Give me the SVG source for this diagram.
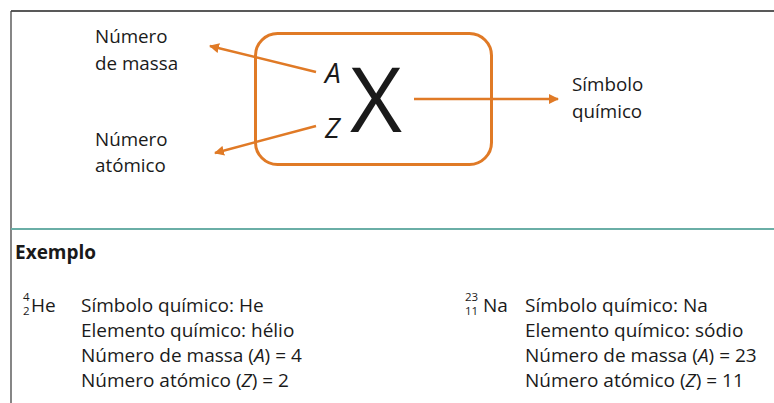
<svg xmlns="http://www.w3.org/2000/svg" width="774" height="403" viewBox="0 0 774 403">
<defs>
<style>
text{font-family:"Open Sans","Liberation Sans",sans-serif;fill:#1a1a1a}
.lbl{font-size:18.8px}
.body{font-size:19px}
.small{font-size:11.5px}
.it{font-style:italic}
.con{stroke:#e07a26;stroke-width:2.5;fill:none}
</style>
<marker id="ah" viewBox="0 0 10 10" refX="9" refY="5" markerWidth="4" markerHeight="4" orient="auto" markerUnits="strokeWidth">
<path d="M0,0 L10,5 L0,10 z" fill="#e07a26"/>
</marker>
</defs>
<rect width="774" height="403" fill="#ffffff"/>
<g id="frame">
<line x1="11" y1="11" x2="774" y2="11" stroke="#222" stroke-width="1.3"/>
<line x1="11" y1="11" x2="11" y2="403" stroke="#444" stroke-width="1.3"/>
<line x1="11" y1="229" x2="774" y2="229" stroke="#6aaea6" stroke-width="2"/>
</g>
<g id="box">
<rect x="255.5" y="33.5" width="236" height="131" rx="22" ry="22" fill="none" stroke="#e07a26" stroke-width="3"/>
<text x="325" y="83" font-size="28" class="it">A</text>
<text x="325" y="138" font-size="28" class="it">Z</text>
<text x="350" y="132" font-size="90" font-weight="500">X</text>
</g>
<g id="connectors">
<line class="con" x1="316" y1="72" x2="210" y2="46" marker-end="url(#ah)"/>
<line class="con" x1="316" y1="126" x2="215" y2="153" marker-end="url(#ah)"/>
<line class="con" x1="414" y1="99" x2="558" y2="99" marker-end="url(#ah)"/>
</g>
<g id="label-massa">
<text class="lbl" x="95" y="43">Número</text>
<text class="lbl" x="95" y="70">de massa</text>
</g>
<g id="label-atomico">
<text class="lbl" x="95" y="146">Número</text>
<text class="lbl" x="95" y="172">atómico</text>
</g>
<g id="label-simbolo">
<text class="lbl" x="572" y="91">Símbolo</text>
<text class="lbl" x="572" y="118">químico</text>
</g>
<g id="exemplo">
<text x="15" y="259" font-size="19" font-weight="bold">Exemplo</text>
</g>
<g id="he">
<text class="small" x="23" y="301">4</text>
<text class="small" x="23" y="315">2</text>
<text class="body" x="31" y="312">He</text>
<text class="body" x="81" y="312">Símbolo químico: He</text>
<text class="body" x="81" y="337">Elemento químico: hélio</text>
<text class="body" x="81" y="362">Número de massa (<tspan class="it">A</tspan>) = 4</text>
<text class="body" x="81" y="387">Número atómico (<tspan class="it">Z</tspan>) = 2</text>
</g>
<g id="na">
<text class="small" x="465" y="301">23</text>
<text class="small" x="465" y="315">11</text>
<text class="body" x="483" y="312">Na</text>
<text class="body" x="525" y="312">Símbolo químico: Na</text>
<text class="body" x="525" y="337">Elemento químico: sódio</text>
<text class="body" x="525" y="362">Número de massa (<tspan class="it">A</tspan>) = 23</text>
<text class="body" x="525" y="387">Número atómico (<tspan class="it">Z</tspan>) = 11</text>
</g>
</svg>
